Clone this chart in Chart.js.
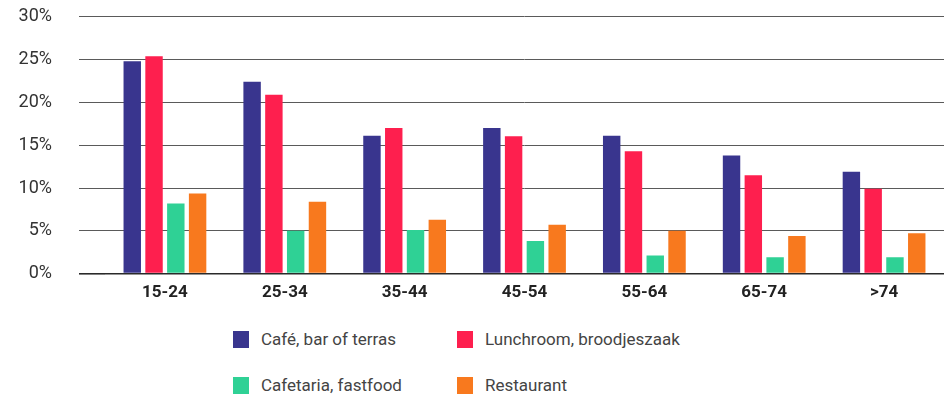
<!DOCTYPE html>
<html>
<head>
<meta charset="utf-8">
<script src="https://cdn.jsdelivr.net/npm/chart.js@4.4.1/dist/chart.umd.min.js"></script>
<style>
  html, body { margin: 0; padding: 0; background: #fff; }
  body { width: 944px; height: 395px; overflow: hidden; font-family: Roboto, sans-serif; }
  #wrap { position: relative; width: 944px; height: 333px; margin-top: -21px; }
  #legend ul {
    list-style: none; margin: 4px 0 0 0; padding: 0 0 0 233px;
    display: grid; grid-template-columns: 224px auto;
  }
  #legend li { display: flex; align-items: center; height: 46px; color: #444; font-size: 17px; }
  #legend li span { display: inline-block; width: 16px; height: 17px; margin-right: 12px; }
</style>
</head>
<body>
<div id="wrap"><canvas id="myChart"></canvas></div>
<div id="legend"></div>
<script>
const ageGroups = ['15-24', '25-34', '35-44', '45-54', '55-64', '65-74', '>74'];
const cafeBar = [24.8, 22.4, 16.1, 17.0, 16.1, 13.8, 11.9];
const lunchroom = [25.4, 20.9, 17.0, 16.05, 14.3, 11.5, 9.9];
const cafetaria = [8.2, 5.0, 5.1, 3.8, 2.1, 1.9, 1.9];
const restaurant = [9.35, 8.4, 6.3, 5.7, 5.0, 4.4, 4.7];
const yTicks = [0, 5, 10, 15, 20, 25, 30];

// legend as html so the two columns line up
const htmlLegend = {
    id: 'htmlLegend',
    afterUpdate(chart) {
        const box = document.getElementById('legend');
        box.innerHTML = '';
        const ul = document.createElement('ul');
        const items = chart.options.plugins.legend.labels.generateLabels(chart);
        items.forEach(item => {
            const li = document.createElement('li');
            const sw = document.createElement('span');
            sw.style.background = item.fillStyle;
            li.appendChild(sw);
            li.appendChild(document.createTextNode(item.text));
            ul.appendChild(li);
        });
        box.appendChild(ul);
    }
};

const ctx = document.getElementById('myChart').getContext('2d');
const myChart = new Chart(ctx, {
    type: 'bar',
    data: {
        labels: ageGroups,
        datasets: [
            { label: 'Café, bar of terras', data: cafeBar, backgroundColor: '#39358e' },
            { label: 'Lunchroom, broodjeszaak', data: lunchroom, backgroundColor: '#fe1f4e' },
            { label: 'Cafetaria, fastfood', data: cafetaria, backgroundColor: '#2fd195' },
            { label: 'Restaurant', data: restaurant, backgroundColor: '#f8791e' }
        ]
    },
    options: {
        responsive: true,
        maintainAspectRatio: false,
        animation: false,
        categoryPercentage: 0.727,
        barPercentage: 0.8,
        layout: { padding: 0 },
        plugins: {
            legend: { display: false },
            tooltip: { enabled: false }
        },
        scales: {
            x: {
                grid: { display: false, drawTicks: false },
                border: { display: false },
                ticks: {
                    color: '#222',
                    padding: 9,
                    font: { family: 'Roboto', size: 17, weight: 'bold' }
                }
            },
            y: {
                min: 0,
                max: 30,
                afterBuildTicks: scale => { scale.ticks = yTicks.map(v => ({ value: v })); },
                afterFit: scale => { scale.width = 105; },
                border: { display: false },
                grid: {
                    // zero line is darker
                    color: c => c.tick && c.tick.value === 0 ? '#2a2a2a' : '#5a5a5a',
                    lineWidth: c => c.tick && c.tick.value === 0 ? 1.6 : 1,
                    tickLength: 26
                },
                ticks: {
                    color: '#333',
                    padding: 27,
                    font: { family: 'Roboto', size: 18 },
                    callback: v => v + '%'
                }
            }
        }
    },
    plugins: [htmlLegend]
});
</script>
</body>
</html>
